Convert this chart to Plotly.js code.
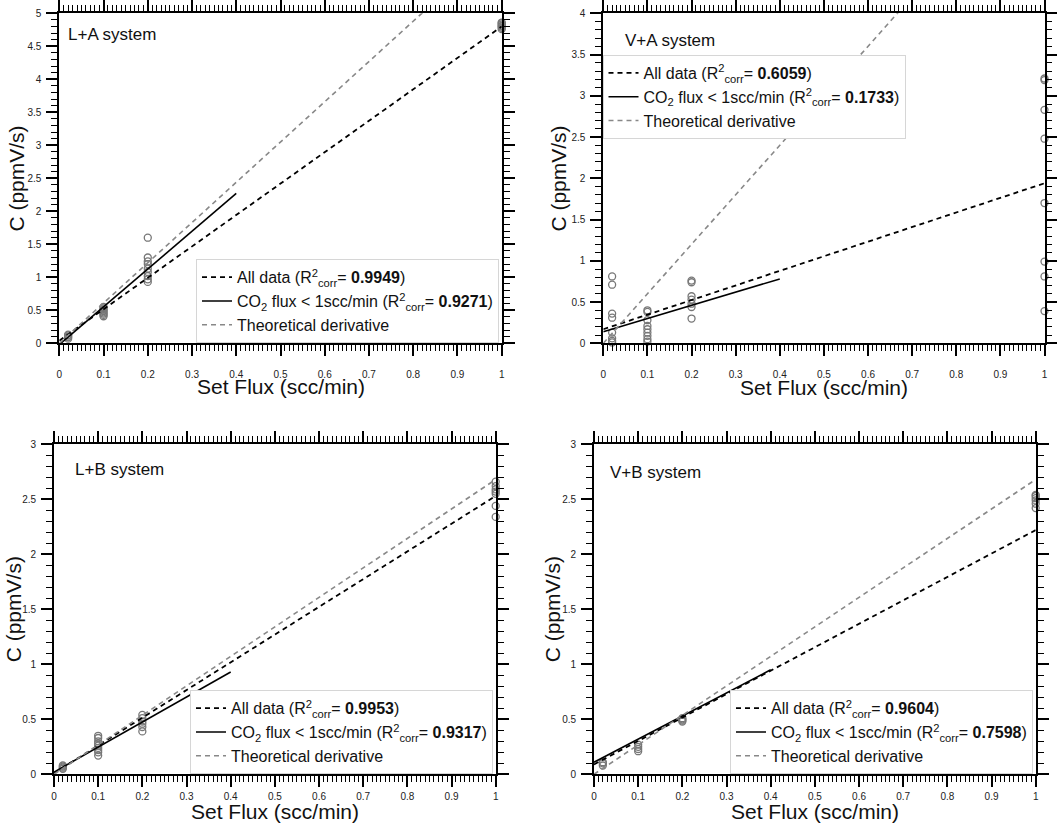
<!DOCTYPE html>
<html>
<head>
<meta charset="utf-8">
<script src="https://cdn.plot.ly/plotly-3.0.1.min.js"></script>
<style>
  html, body { margin: 0; padding: 0; background: #fff; }
  #chart { width: 1059px; height: 833px; }
</style>
</head>
<body>
<div id="chart"></div>
<script>
// ── data ────────────────────────────────────────────────────────────────────

// set flux levels (scc/min)
const fluxLevels = [0.02, 0.1, 0.2, 1];

// L+A system, measured C (ppmV/s) per flux level
const laAt002 = [0.07, 0.09, 0.10, 0.12, 0.13];
const laAt01  = [0.41, 0.43, 0.45, 0.47, 0.49, 0.51, 0.53, 0.55];
const laAt02  = [1.60, 1.30, 1.24, 1.20, 1.13, 1.08, 1.02, 0.97, 0.93];
const laAt1   = [4.76, 4.78, 4.80, 4.81, 4.83, 4.85, 4.86];

// V+A system
const vaAt002 = [0.81, 0.71, 0.36, 0.31, 0.13, 0.06, 0.03, 0.01, -0.01];
const vaAt01  = [0.40, 0.38, 0.28, 0.21, 0.17, 0.13, 0.09, 0.05, 0.02];
const vaAt02  = [0.76, 0.74, 0.57, 0.53, 0.48, 0.44, 0.30];
const vaAt1   = [3.21, 3.19, 2.83, 2.48, 1.70, 0.99, 0.81, 0.39];

// L+B system
const lbAt002 = [0.05, 0.06, 0.07, 0.08];
const lbAt01  = [0.35, 0.33, 0.30, 0.28, 0.26, 0.24, 0.22, 0.20, 0.17];
const lbAt02  = [0.54, 0.51, 0.48, 0.46, 0.43, 0.39];
const lbAt1   = [2.66, 2.62, 2.59, 2.57, 2.55, 2.44, 2.34];

// V+B system
const vbAt002 = [0.08, 0.10, 0.11];
const vbAt01  = [0.27, 0.25, 0.23, 0.21];
const vbAt02  = [0.51, 0.50, 0.49, 0.48];
const vbAt1   = [2.54, 2.53, 2.51, 2.49, 2.46, 2.42];

// fitted / theoretical lines, end points
const allFitX  = [0, 1];
const lowFitX  = [0, 0.4];
const theoryX  = [0, 1];

const laAllY = [0.04, 4.80];  const laLowY = [-0.02, 2.27]; const laTheoryY = [0, 6.10];
const vaAllY = [0.17, 1.94];  const vaLowY = [0.14, 0.78];  const vaTheoryY = [0, 6.00];
const lbAllY = [0.01, 2.53];  const lbLowY = [0.02, 0.93];  const lbTheoryY = [0, 2.68];
const vbAllY = [0.09, 2.22];  const vbLowY = [0.11, 0.95];  const vbTheoryY = [0, 2.68];

const panelNames = ['L+A system', 'V+A system', 'L+B system', 'V+B system'];
const r2All = ['0.9949', '0.6059', '0.9953', '0.9604'];
const r2Low = ['0.9271', '0.1733', '0.9317', '0.7598'];
const yMax  = [5, 4, 3, 3];

// ── helpers ─────────────────────────────────────────────────────────────────

const FONT = '"Liberation Sans", Arial, Helvetica, sans-serif';

function scatterXY(groups) {
  const x = [], y = [];
  groups.forEach(function (vals, i) {
    vals.forEach(function (v) { x.push(fluxLevels[i]); y.push(v); });
  });
  return { x: x, y: y };
}

function minorTicks(dtick) {
  return { ticks: 'outside', ticklen: 6, tickwidth: 1.2, tickcolor: '#000', dtick: dtick, showgrid: false };
}

function axisBase(extra) {
  return Object.assign({
    showline: true, linecolor: '#000', linewidth: 1.8, mirror: 'allticks',
    ticks: 'outside', ticklen: 11, tickwidth: 1.6, tickcolor: '#000',
    showgrid: false, zeroline: false, automargin: false,
    tickfont: { size: 10, color: '#222', family: FONT },
  }, extra);
}

function panelTraces(idx, pts, allY, lowY, theoryY) {
  const n = idx + 1;
  const xa = n === 1 ? 'x' : 'x' + n;
  const ya = n === 1 ? 'y' : 'y' + n;
  const leg = n === 1 ? 'legend' : 'legend' + n;
  const r2 = '(R<sup>2</sup><sub>corr</sub>= ';
  return [
    {
      x: pts.x, y: pts.y, xaxis: xa, yaxis: ya, type: 'scatter', mode: 'markers',
      marker: { symbol: 'circle-open', size: 7, color: '#777', line: { width: 1.3 } },
      cliponaxis: false, showlegend: false, hoverinfo: 'x+y',
    },
    {
      x: allFitX, y: allY, xaxis: xa, yaxis: ya, type: 'scatter', mode: 'lines',
      line: { color: '#000', width: 1.8, dash: '5px,4px' }, legend: leg,
      name: 'All data ' + r2 + '<b>' + r2All[idx] + '</b>)',
    },
    {
      x: lowFitX, y: lowY, xaxis: xa, yaxis: ya, type: 'scatter', mode: 'lines',
      line: { color: '#000', width: 1.6 }, legend: leg,
      name: 'CO<sub>2</sub> flux &lt; 1scc/min ' + r2 + '<b>' + r2Low[idx] + '</b>)',
    },
    {
      x: theoryX, y: theoryY, xaxis: xa, yaxis: ya, type: 'scatter', mode: 'lines',
      line: { color: '#888', width: 1.6, dash: '5px,4px' }, legend: leg,
      name: 'Theoretical derivative',
    },
  ];
}

// ── traces ──────────────────────────────────────────────────────────────────

const traces = [].concat(
  panelTraces(0, scatterXY([laAt002, laAt01, laAt02, laAt1]), laAllY, laLowY, laTheoryY),
  panelTraces(1, scatterXY([vaAt002, vaAt01, vaAt02, vaAt1]), vaAllY, vaLowY, vaTheoryY),
  panelTraces(2, scatterXY([lbAt002, lbAt01, lbAt02, lbAt1]), lbAllY, lbLowY, lbTheoryY),
  panelTraces(3, scatterXY([vbAt002, vbAt01, vbAt02, vbAt1]), vbAllY, vbLowY, vbTheoryY)
);

// ── layout ──────────────────────────────────────────────────────────────────

const W = 1059, H = 833;
// plot-area pixel boxes [left, right, top, bottom]
const boxes = [
  [59.3, 501.7, 13.3, 343.3],
  [603.3, 1044.5, 13.3, 343.3],
  [54.0, 495.7, 444.3, 774.3],
  [594.0, 1035.7, 444.3, 774.3],
];
const labelPos = [[0.015, 0.937], [0.044, 0.917], [0.042, 0.925], [0.031, 0.916]];
const xTitleShift = [-43, -44, -37, -37];
const yTitleShift = [-43, -45, -41, -42];
const xLabelStandoff = [10, 10, 1, 1];

const layout = {
  width: W, height: H,
  margin: { l: 0, r: 0, t: 0, b: 0 },
  paper_bgcolor: '#fff', plot_bgcolor: '#fff',
  font: { family: FONT, color: '#111' },
  annotations: [],
};

const titleFont = { size: 21, family: FONT, color: '#111' };

boxes.forEach(function (b, i) {
  const n = i + 1;
  const sx = n === 1 ? '' : String(n);
  layout['xaxis' + sx] = axisBase({
    domain: [b[0] / W, b[1] / W], anchor: 'y' + sx,
    range: [0, 1], dtick: 0.1, tick0: 0,
    minor: minorTicks(0.01),
    ticklabelstandoff: xLabelStandoff[i],
  });
  layout['yaxis' + sx] = axisBase({
    domain: [1 - b[3] / H, 1 - b[2] / H], anchor: 'x' + sx,
    range: [0, yMax[i]], dtick: 0.5, tick0: 0,
    minor: minorTicks(0.1),
    ticklabelstandoff: 3,
  });
  const xd = 'x' + sx + ' domain', yd = 'y' + sx + ' domain';
  layout.annotations.push({
    xref: xd, yref: yd, x: labelPos[i][0], y: labelPos[i][1],
    xanchor: 'left', yanchor: 'middle', showarrow: false,
    text: panelNames[i], font: { size: 17, family: FONT, color: '#111' },
  });
  layout.annotations.push({
    xref: xd, yref: yd, x: 0.5, y: 0, yshift: xTitleShift[i],
    xanchor: 'center', yanchor: 'middle', showarrow: false,
    text: 'Set Flux (scc/min)', font: titleFont,
  });
  layout.annotations.push({
    xref: xd, yref: yd, x: 0, y: 0.5, xshift: yTitleShift[i], textangle: -90,
    xanchor: 'center', yanchor: 'middle', showarrow: false,
    text: 'C (ppmV/s)', font: titleFont,
  });
});

const legendBase = {
  bgcolor: '#fff', bordercolor: '#d6d6d6', borderwidth: 1,
  font: { size: 16, family: FONT, color: '#111' },
  itemwidth: 30, tracegroupgap: 0,
};
layout.legend  = Object.assign({}, legendBase, { x: 499 / W, y: 1 - 343.3 / H, xanchor: 'right', yanchor: 'bottom' });
layout.legend2 = Object.assign({}, legendBase, { x: 602.5 / W, y: 1 - 55 / H, xanchor: 'left', yanchor: 'top' });
layout.legend3 = Object.assign({}, legendBase, { x: 493 / W, y: 1 - 774.3 / H, xanchor: 'right', yanchor: 'bottom' });
layout.legend4 = Object.assign({}, legendBase, { x: 1033 / W, y: 1 - 774.3 / H, xanchor: 'right', yanchor: 'bottom' });

Plotly.newPlot('chart', traces, layout, { displayModeBar: false, responsive: false });
</script>
</body>
</html>
